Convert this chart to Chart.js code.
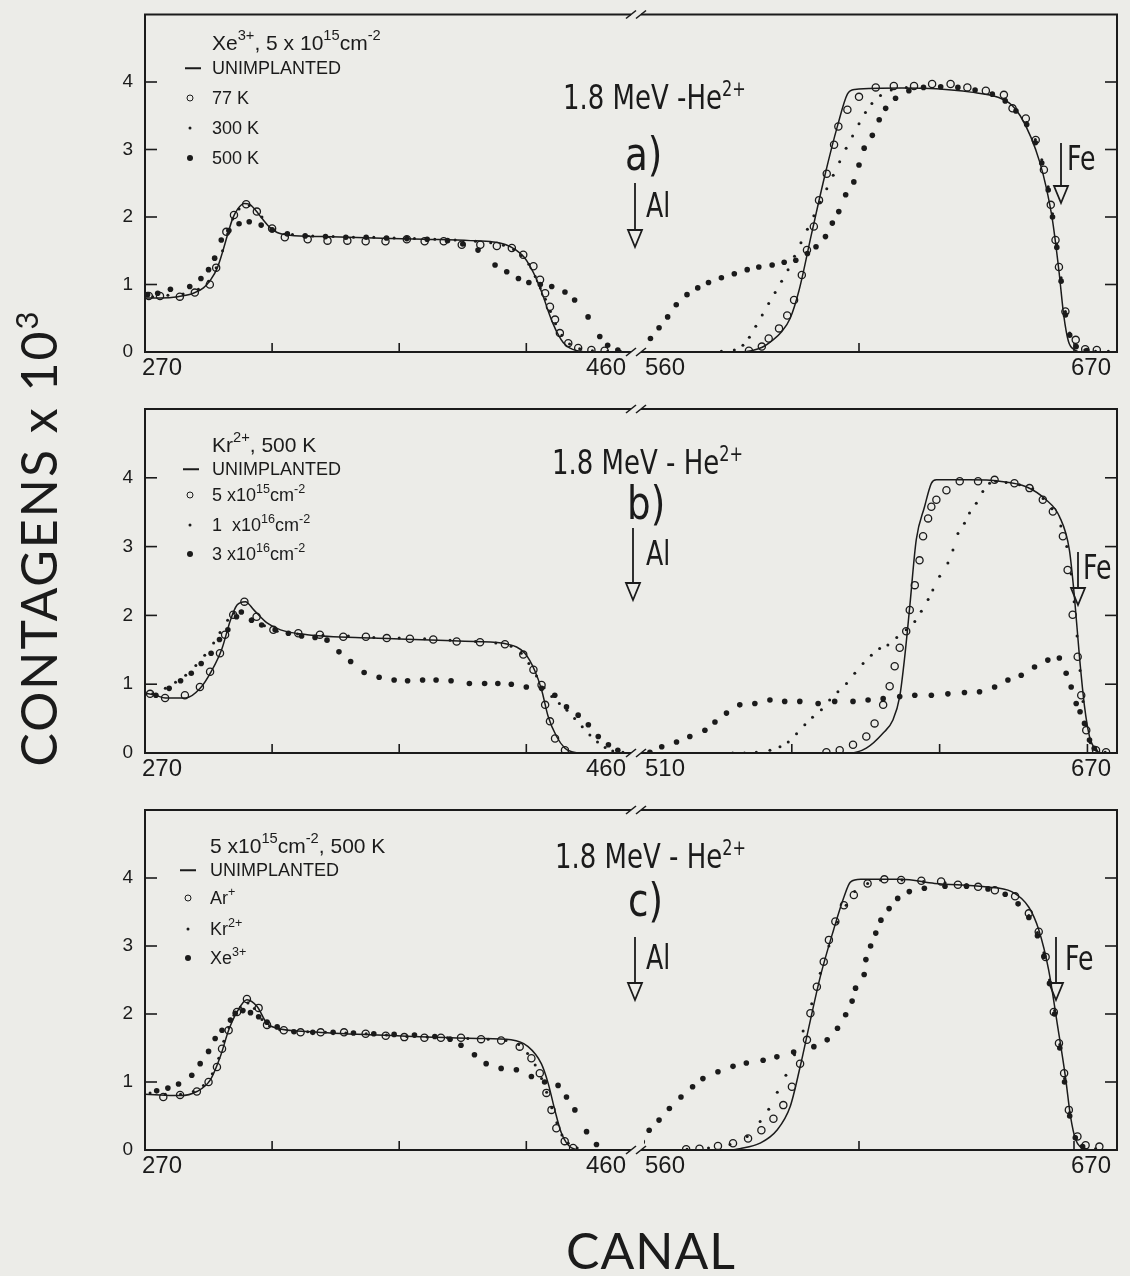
<!DOCTYPE html>
<html lang="pt">
<head>
<meta charset="utf-8">
<title>Espectros de retroespalhamento</title>
<script src="https://cdn.jsdelivr.net/npm/chart.js@4.4.0/dist/chart.umd.min.js"></script>
<style>
  html, body { margin: 0; padding: 0; }
  body {
    width: 1130px; height: 1276px; position: relative; overflow: hidden;
    background: #ecece8; color: #1b1b1b;
    font-family: "Liberation Sans", Arial, sans-serif;
  }
  canvas.seg { position: absolute; left: 0; top: 0; }
  svg#marks { position: absolute; left: 0; top: 0; }
  .t { position: absolute; white-space: nowrap; line-height: 1; transform: translateY(-50%); transform-origin: left center; }
  sup { font-size: 0.62em; vertical-align: 0.62em; line-height: 0; }
  .head { font-size: 21px; }
  .head sup { font-size: 0.7em; }
  .item { font-size: 18px; }
  .item sup { font-size: 0.7em; }
  .beam { font-family: "Liberation Sans Narrow", "DejaVu Sans Condensed", sans-serif; font-size: 34px; transform: translateY(-50%) scaleX(0.85); }
  .tag { font-family: "Liberation Sans Narrow", "DejaVu Sans Condensed", sans-serif; font-size: 46px; transform: translateY(-50%) scaleX(0.9); }
  .elem { font-family: "Liberation Sans Narrow", "DejaVu Sans Condensed", sans-serif; font-size: 33px; transform: translateY(-50%) scaleX(0.85); }
  .mk { position: absolute; transform: translate(-50%, -50%); box-sizing: border-box; }
  .mk.line { width: 16px; height: 1.5px; background: #1b1b1b; }
  .mk.open { width: 7px; height: 7px; border: 1.4px solid #1b1b1b; border-radius: 50%; }
  .mk.small { width: 3px; height: 3px; background: #1b1b1b; border-radius: 50%; }
  .mk.big { width: 6px; height: 6px; background: #1b1b1b; border-radius: 50%; }
  #ytitle {
    position: absolute; left: 38px; top: 538px; white-space: nowrap; line-height: 1;
    font-family: Lato, "Liberation Sans", sans-serif; font-size: 50px; letter-spacing: 2px;
    transform: translate(-50%, -50%) rotate(-90deg);
  }
  #xtitle {
    position: absolute; left: 651px; top: 1250px; white-space: nowrap; line-height: 1;
    font-family: Lato, "Liberation Sans", sans-serif; font-size: 50px; letter-spacing: 1px;
    transform: translate(-50%, -50%);
  }
</style>
</head>
<body>

<canvas id="aLeft" class="seg" width="1130" height="1276"></canvas>
<canvas id="aRight" class="seg" width="1130" height="1276"></canvas>
<canvas id="bLeft" class="seg" width="1130" height="1276"></canvas>
<canvas id="bRight" class="seg" width="1130" height="1276"></canvas>
<canvas id="cLeft" class="seg" width="1130" height="1276"></canvas>
<canvas id="cRight" class="seg" width="1130" height="1276"></canvas>

<!-- Al / Fe surface arrows -->
<svg id="marks" width="1130" height="1276">
  <g stroke="#1b1b1b" stroke-width="1.8" fill="none" stroke-linejoin="miter">
    <path d="M635 183 V230"/><path d="M628 230 H642 L635 247 Z"/>
    <path d="M1061 143 V186"/><path d="M1054 186 H1068 L1061 203 Z"/>
    <path d="M633 528 V583"/><path d="M626 583 H640 L633 600 Z"/>
    <path d="M1078 552 V588"/><path d="M1071 588 H1085 L1078 605 Z"/>
    <path d="M635 937 V983"/><path d="M628 983 H642 L635 1000 Z"/>
    <path d="M1056 937 V983"/><path d="M1049 983 H1063 L1056 1000 Z"/>
  </g>
</svg>

<!-- panel a -->
<div class="t head" style="left:212px;top:42px">Xe<sup>3+</sup>, 5 x 10<sup>15</sup>cm<sup>-2</sup></div>
<span class="mk line" style="left:193px;top:68px"></span><div class="t item" style="left:212px;top:68px">UNIMPLANTED</div>
<span class="mk open" style="left:190px;top:98px"></span><div class="t item" style="left:212px;top:98px">77 K</div>
<span class="mk small" style="left:190px;top:128px"></span><div class="t item" style="left:212px;top:128px">300 K</div>
<span class="mk big" style="left:190px;top:158px"></span><div class="t item" style="left:212px;top:158px">500 K</div>
<div class="t beam" style="left:563px;top:97px">1.8 MeV -He<sup>2+</sup></div>
<div class="t tag" style="left:625px;top:154px">a)</div>
<div class="t elem" style="left:646px;top:205px">Al</div>
<div class="t elem" style="left:1067px;top:158px">Fe</div>

<!-- panel b -->
<div class="t head" style="left:212px;top:444px">Kr<sup>2+</sup>, 500 K</div>
<span class="mk line" style="left:191px;top:469px"></span><div class="t item" style="left:212px;top:469px">UNIMPLANTED</div>
<span class="mk open" style="left:190px;top:495px"></span><div class="t item" style="left:212px;top:495px">5 x10<sup>15</sup>cm<sup>-2</sup></div>
<span class="mk small" style="left:190px;top:525px"></span><div class="t item" style="left:212px;top:525px">1 &nbsp;x10<sup>16</sup>cm<sup>-2</sup></div>
<span class="mk big" style="left:190px;top:554px"></span><div class="t item" style="left:212px;top:554px">3 x10<sup>16</sup>cm<sup>-2</sup></div>
<div class="t beam" style="left:552px;top:462px">1.8 MeV - He<sup>2+</sup></div>
<div class="t tag" style="left:627px;top:503px">b)</div>
<div class="t elem" style="left:646px;top:553px">Al</div>
<div class="t elem" style="left:1083px;top:567px">Fe</div>

<!-- panel c -->
<div class="t head" style="left:210px;top:845px">5 x10<sup>15</sup>cm<sup>-2</sup>, 500 K</div>
<span class="mk line" style="left:188px;top:870px"></span><div class="t item" style="left:210px;top:870px">UNIMPLANTED</div>
<span class="mk open" style="left:188px;top:898px"></span><div class="t item" style="left:210px;top:898px">Ar<sup>+</sup></div>
<span class="mk small" style="left:188px;top:929px"></span><div class="t item" style="left:210px;top:929px">Kr<sup>2+</sup></div>
<span class="mk big" style="left:188px;top:958px"></span><div class="t item" style="left:210px;top:958px">Xe<sup>3+</sup></div>
<div class="t beam" style="left:555px;top:856px">1.8 MeV - He<sup>2+</sup></div>
<div class="t tag" style="left:628px;top:900px">c)</div>
<div class="t elem" style="left:646px;top:957px">Al</div>
<div class="t elem" style="left:1065px;top:958px">Fe</div>

<div id="ytitle">CONTAGENS x 10<sup>3</sup></div>
<div id="xtitle">CANAL</div>

<script>
const INK = '#1b1b1b';
const W = 1130, H = 1276;

// counts axis (x 10^3), same for every panel
const yTicks = [0, 1, 2, 3, 4];
const yMax = 5;

// channel windows either side of the axis break
const leftRange = [270, 460];
const rightRangeA = [560, 670];
const rightRangeB = [510, 670];
const rightRangeC = [560, 670];

// inner (unlabelled) channel ticks
const leftTicks = [320, 370, 420];
const rightTicksA = [610, 660];
const rightTicksB = [560, 610, 660];
const rightTicksC = [610, 660];

// a) Xe3+, 5x10^15 cm-2 -- [canal, contagens x 10^3]
const aUnimplanted = [
  [270,0.80],[276,0.80],[283,0.82],[289,0.87],[293,0.95],[296,1.08],[298.5,1.25],[300.5,1.48],
  [302.5,1.74],[304.5,1.98],[306.5,2.12],[309,2.20],[311,2.19],[313.5,2.10],[316,1.98],[319,1.85],
  [322,1.77],[327,1.73],[340,1.71],[360,1.69],[380,1.67],[398,1.65],[407,1.63],[412,1.59],
  [416,1.51],[419,1.41],[421.5,1.27],[424,1.08],[426.5,0.84],[428.5,0.62],[430.5,0.42],[432.5,0.26],
  [434.5,0.14],[437,0.06],[440,0.02],[445,0],[460,0],
  [560,0],[582,0],[585,0.02],[587.5,0.07],[590,0.18],[592,0.30],[594,0.50],[596,0.90],[599,1.76],
  [602,2.60],[605,3.35],[607.3,3.82],[609,3.89],[620,3.91],[628,3.90],[636,3.85],[642.5,3.77],
  [645.5,3.66],[647.5,3.50],[650,3.18],[652,2.82],[653.5,2.45],[655,1.95],[656.5,1.20],[657.6,0.55],
  [658.7,0.16],[660.2,0.03],[662,0],[670,0]
];
const aK77 = [
  [271.5,0.83],[275.9,0.83],[283.7,0.82],[289.6,0.88],[295.5,1.00],[298,1.25],[302,1.78],[305,2.03],
  [309.8,2.19],[314,2.08],[320,1.83],[325,1.70],[334,1.67],[341.8,1.65],[349.6,1.65],[356.8,1.64],
  [364.6,1.64],[373,1.67],[380,1.64],[387.5,1.64],[394.6,1.59],[401.9,1.59],[408.4,1.57],[414.3,1.54],
  [418.8,1.44],[422.8,1.27],[425.4,1.07],[427.4,0.87],[429.3,0.67],[431.3,0.48],[433.2,0.28],[436.5,0.13],
  [440.4,0.06],[445.6,0.03],[450.8,0.02],
  [584.4,0.02],[587.4,0.08],[589,0.20],[591.4,0.35],[593.3,0.54],[594.9,0.77],[596.7,1.14],[597.9,1.51],
  [599.5,1.86],[600.7,2.25],[602.5,2.64],[604.2,3.07],[605.2,3.34],[607.3,3.59],[610,3.78],[613.9,3.92],
  [618.1,3.94],[622.8,3.94],[627,3.97],[631.3,3.97],[635.2,3.92],[639.5,3.87],[643.7,3.81],[645.7,3.61],
  [648.8,3.46],[651.1,3.14],[653,2.70],[654.6,2.18],[655.7,1.66],[656.5,1.26],[658,0.60],[660.4,0.18],
  [662.6,0.04],[665.3,0.03]
];
const aK300 = [
  [273,0.82],[279,0.84],[285,0.86],[291,0.93],[295,1.05],[298,1.25],[300.5,1.50],[302.5,1.75],
  [304.5,1.97],[307,2.12],[311,2.17],[316,2.00],[321,1.80],[328,1.74],[336,1.72],[344,1.71],
  [352,1.70],[360,1.70],[368,1.69],[376,1.68],[384,1.67],[392,1.66],[400,1.64],[406,1.62],
  [411,1.58],[415,1.52],[418,1.43],[421,1.30],[423.5,1.12],[425.5,0.95],[427.5,0.78],[429.5,0.60],
  [431.5,0.42],[434,0.25],[437,0.12],[441,0.05],[446,0.02],[452,0.01],[457,0.01],
  [578,0.01],[581,0.03],[583,0.10],[584.5,0.22],[586,0.38],[587.5,0.55],[589,0.72],[590.5,0.88],
  [592,1.05],[593.5,1.22],[595,1.42],[596.5,1.62],[598,1.82],[599.5,2.02],[601,2.22],[602.5,2.42],
  [604,2.62],[605.5,2.82],[607,3.02],[608.5,3.20],[610,3.38],[611.5,3.55],[613,3.68],[615,3.80],
  [617.5,3.88],[621,3.92],[625,3.93],[629,3.93],[633,3.92],[637,3.88],[641,3.83],[644,3.75],
  [646.5,3.60],[649,3.40],[651,3.15],[652.5,2.85],[654,2.45],[655,2.05],[656,1.60],[657,1.10],
  [658,0.60],[659,0.28],[660.5,0.10],[662.5,0.03],[665,0.01],[668,0.01]
];
const aK500 = [
  [271,0.85],[275,0.87],[280,0.93],[287.6,0.97],[292,1.09],[295,1.22],[297.4,1.39],[300,1.66],
  [303,1.80],[307,1.90],[311,1.93],[315.7,1.88],[320,1.81],[326,1.75],[333,1.72],[341,1.71],
  [349,1.70],[357,1.70],[365,1.69],[373,1.68],[381,1.67],[389,1.65],[395,1.60],[401,1.51],
  [407.7,1.29],[412.3,1.19],[416.9,1.09],[421,1.03],[425.5,1.00],[430,0.97],[435.2,0.89],[439,0.77],
  [444.3,0.52],[448.9,0.23],[452,0.10],[456,0.03],
  [561.5,0.20],[563.5,0.36],[565.5,0.52],[567.5,0.70],[570,0.85],[572.5,0.95],[575,1.03],[578,1.10],
  [581,1.16],[584,1.22],[586.7,1.26],[589.8,1.29],[592.6,1.33],[595.3,1.36],[598,1.46],[600,1.56],
  [602.2,1.71],[603.8,1.91],[605.3,2.08],[606.9,2.33],[608.8,2.52],[610,2.77],[611.2,3.02],[613.1,3.21],
  [614.7,3.44],[616.2,3.61],[618.5,3.76],[621.6,3.87],[625,3.92],[629,3.93],[633,3.92],[637,3.88],
  [641,3.82],[644,3.72],[646.5,3.57],[649,3.37],[651,3.10],[652.5,2.80],[654,2.40],[655,2.00],
  [656,1.55],[657,1.05],[658,0.55],[659,0.25],[660.5,0.08],[663,0.02]
];

// b) Kr2+, 500 K
const bUnimplanted = [
  [270,0.87],[274,0.84],[278,0.80],[286,0.80],[291.7,0.94],[296.3,1.20],[300.3,1.52],[303.6,1.93],
  [306.2,2.15],[309.5,2.20],[312.8,2.08],[318,1.89],[323.3,1.79],[333.8,1.72],[360,1.67],[399.6,1.62],
  [412.8,1.58],[419.4,1.45],[423.3,1.20],[426,0.92],[428.6,0.53],[431.9,0.24],[435.2,0.07],[437.8,0.02],
  [442,0],[460,0],
  [510,0],[579.6,0],[585.2,0.07],[590.9,0.29],[594.2,0.48],[596.5,0.82],[598.2,1.40],[599.9,2.13],
  [602.1,3.10],[604.9,3.58],[607.2,3.92],[608.9,3.97],[620,3.97],[630.3,3.95],[639.3,3.87],[646,3.68],
  [650.5,3.44],[653.9,2.95],[655.6,2.27],[657.3,1.40],[659,0.68],[660.7,0.24],[662.9,0.04],[665,0],[670,0]
];
const bDose5e15 = [
  [272,0.86],[277.9,0.80],[285.7,0.84],[291.6,0.96],[295.6,1.18],[299.5,1.45],[301.5,1.72],[304.7,2.01],
  [309.1,2.20],[313.9,1.98],[320.5,1.79],[330.3,1.74],[338.8,1.72],[348,1.69],[356.9,1.69],[365.1,1.67],
  [374.2,1.66],[383.4,1.65],[392.6,1.62],[401.8,1.61],[411.6,1.58],[418.8,1.43],[422.8,1.21],[426,0.99],
  [427.4,0.70],[429.3,0.46],[431.3,0.21],[435.2,0.04],
  [571.7,0.01],[576.2,0.04],[580.7,0.12],[585.2,0.24],[588,0.43],[590.9,0.70],[593.1,0.97],[594.8,1.26],
  [596.5,1.53],[598.7,1.77],[599.9,2.08],[601.6,2.44],[603.2,2.80],[604.4,3.15],[606.1,3.41],[607.2,3.58],
  [608.9,3.68],[612.3,3.82],[616.8,3.95],[623,3.95],[628.6,3.97],[635.3,3.92],[640.4,3.85],[644.9,3.68],
  [648.3,3.51],[651.7,3.15],[653.3,2.66],[655,2.01],[656.7,1.40],[657.9,0.84],[659.6,0.33],[662.9,0.04],
  [666.3,0.01]
];
const bDose1e16 = [
  [273,0.86],[278,0.94],[282,1.03],[286,1.13],[290,1.27],[293.5,1.42],[297,1.60],[299.5,1.75],
  [302.5,1.93],[305,2.03],[308,2.06],[312,1.95],[317,1.85],[322,1.77],[330,1.73],[340,1.71],
  [350,1.70],[360,1.68],[370,1.67],[380,1.66],[390,1.64],[400,1.62],[408,1.60],[414,1.55],
  [418,1.45],[421,1.30],[424,1.12],[427,0.95],[430,0.82],[433,0.72],[436,0.62],[439,0.50],
  [442,0.38],[445,0.26],[448,0.16],[451,0.08],[454,0.03],[458,0.01],
  [540,0],[544,0],[548,0.01],[552.6,0.04],[556,0.09],[558.8,0.16],[561.6,0.28],[564.4,0.41],
  [567,0.52],[570,0.63],[572.8,0.77],[575.6,0.89],[578.5,1.01],[581.3,1.16],[584.1,1.30],[586.9,1.42],
  [589.7,1.52],[592.5,1.57],[595.5,1.68],[598.7,1.79],[601.6,1.91],[603.8,2.06],[606.1,2.23],[607.7,2.37],
  [610,2.57],[612.8,2.76],[614.5,2.95],[616.2,3.19],[618.4,3.34],[620.1,3.49],[622.4,3.63],[624.6,3.80],
  [626.9,3.92],[629,3.95],[632.5,3.93],[637,3.90],[641.5,3.84],[645,3.70],[648,3.55],[651,3.30],
  [653,3.00],[654.5,2.60],[655.5,2.20],[656.5,1.70],[657.5,1.20],[658.5,0.75],[659.5,0.40],[661,0.15],
  [663,0.04],[666,0.01]
];
const bDose3e16 = [
  [274.3,0.84],[279.5,0.94],[284,1.05],[288.2,1.16],[292.1,1.30],[296,1.45],[299.3,1.65],[302.6,1.79],
  [306,1.98],[307.9,2.05],[311.9,1.93],[315.9,1.86],[321.2,1.79],[326.4,1.74],[331.6,1.70],[336.9,1.68],
  [341.6,1.64],[346.3,1.47],[350.9,1.33],[356.2,1.17],[362.1,1.10],[368,1.06],[373.3,1.05],[379.2,1.06],
  [384.5,1.06],[390.4,1.05],[397.6,1.01],[403.6,1.01],[408.8,1.01],[414.1,1.00],[420,0.96],[426,0.94],
  [431.2,0.84],[435.8,0.67],[440.4,0.55],[444.4,0.41],[448.3,0.24],[452.3,0.12],[456,0.04],
  [512,0.01],[516,0.09],[521,0.16],[525.5,0.24],[530.6,0.33],[534,0.45],[537.9,0.58],[542.4,0.70],
  [547.5,0.72],[552.6,0.77],[557.6,0.75],[562.7,0.75],[568.9,0.72],[574.5,0.75],[580.7,0.75],[585.8,0.77],
  [590.9,0.79],[596.5,0.82],[601.6,0.84],[607.2,0.84],[612.8,0.86],[618.4,0.88],[623.5,0.89],[628.6,0.96],
  [633.1,1.06],[637.6,1.13],[642.1,1.25],[646.6,1.35],[650.5,1.38],[652.8,1.16],[654.5,0.96],[656.2,0.72],
  [657.5,0.60],[659,0.43],[660.7,0.19],[662.3,0.07]
];

// c) 5x10^15 cm-2, 500 K
const cUnimplanted = [
  [270,0.82],[275.9,0.81],[283.8,0.80],[290.4,0.86],[295.7,1.03],[299.6,1.37],[302.9,1.76],[306.2,2.03],
  [310.1,2.21],[314.1,2.11],[318,1.86],[322,1.79],[335.1,1.74],[361.4,1.69],[400.9,1.64],[414,1.62],
  [420.7,1.52],[425.9,1.27],[428.6,0.98],[431.2,0.59],[433.8,0.25],[437.8,0.03],[442,0],[460,0],
  [560,0],[580,0],[582.3,0.02],[587,0.10],[590.9,0.29],[594,0.64],[596.3,1.22],[598.7,1.91],
  [601,2.55],[604.1,3.24],[606.5,3.72],[608,3.94],[610.4,3.98],[619.8,3.98],[627.6,3.92],[639.3,3.87],
  [645.5,3.80],[649.5,3.57],[651.8,3.24],[654.1,2.65],[656.1,1.86],[658,1.08],[659.2,0.49],[660.4,0.15],
  [662.7,0.02],[665,0],[670,0]
];
const cAr = [
  [277.2,0.78],[283.8,0.81],[290.4,0.86],[295,1.00],[298.3,1.22],[300.3,1.49],[302.9,1.76],[306.2,2.03],
  [310.1,2.22],[314.7,2.09],[318,1.84],[324.6,1.76],[331.2,1.73],[339.1,1.73],[348.3,1.73],[356.8,1.71],
  [364.7,1.68],[372,1.66],[379.9,1.65],[386.4,1.65],[394.3,1.65],[402.2,1.63],[410.1,1.61],[417.4,1.52],
  [422,1.35],[425.3,1.13],[427.9,0.84],[429.9,0.59],[431.8,0.32],[435.1,0.13],[438.4,0.03],
  [569.8,0.01],[572.9,0.02],[577.2,0.06],[580.7,0.10],[584.2,0.17],[587.3,0.29],[590.1,0.46],[592.4,0.66],
  [594.4,0.93],[596.3,1.27],[597.9,1.62],[598.7,2.01],[600.2,2.40],[601.8,2.77],[603,3.09],[604.5,3.36],
  [606.5,3.60],[608.8,3.75],[612,3.92],[615.9,3.98],[619.8,3.97],[624.5,3.96],[629.1,3.95],[633,3.90],
  [637.7,3.87],[641.6,3.82],[646.3,3.73],[649.5,3.48],[651.8,3.21],[653.4,2.84],[655.3,2.03],[656.5,1.57],
  [657.7,1.13],[658.8,0.59],[660.8,0.20],[662.7,0.07],[665.9,0.05]
];
const cKr = [
  [272,0.84],[278,0.82],[284,0.82],[289,0.86],[293,0.95],[296.5,1.12],[299,1.35],[301,1.60],
  [303,1.80],[305,1.98],[307.5,2.10],[310.5,2.16],[313,2.08],[316,1.92],[319,1.82],[323,1.77],
  [328,1.75],[334,1.74],[341,1.73],[349,1.72],[357,1.71],[365,1.69],[373,1.67],[381,1.66],
  [389,1.65],[397,1.64],[405,1.63],[412,1.61],[417,1.55],[420.5,1.42],[423.5,1.25],[426,1.05],
  [428,0.85],[430,0.62],[432,0.40],[434,0.22],[436.5,0.10],[440,0.03],
  [570,0.01],[575,0.03],[580,0.08],[584,0.20],[587,0.42],[589,0.60],[591,0.85],[593,1.10],
  [595,1.40],[597,1.75],[599,2.15],[601,2.60],[603,3.00],[605,3.35],[607,3.60],[609,3.80],
  [612,3.92],[615,3.97],[620,3.97],[625,3.95],[630,3.93],[635,3.90],[640,3.85],[644,3.76],
  [647,3.62],[649.5,3.45],[651.5,3.20],[653,2.90],[654.3,2.50],[655.5,2.05],[656.7,1.55],[657.8,1.05],
  [659,0.55],[660.3,0.20],[662,0.06],[665,0.02]
];
const cXe = [
  [274.6,0.87],[279,0.91],[283.2,0.97],[288.4,1.10],[291.7,1.27],[295,1.45],[297.6,1.64],[300.3,1.76],
  [303.6,1.91],[305.5,2.01],[308.5,2.05],[311.5,2.02],[314.7,1.96],[318,1.88],[322,1.81],[328.6,1.74],
  [336,1.73],[344,1.73],[352,1.72],[360,1.71],[368,1.70],[376,1.69],[384,1.67],[390,1.63],
  [394.3,1.54],[399.6,1.40],[404.2,1.27],[410.1,1.20],[416.1,1.18],[422,1.08],[427.2,1.00],[432.5,0.95],
  [435.8,0.78],[439.1,0.59],[443.7,0.27],[447.6,0.08],
  [559.6,0.12],[561.2,0.29],[563.5,0.44],[565.9,0.61],[568.6,0.78],[571.3,0.93],[573.7,1.05],[577.2,1.15],
  [580.7,1.23],[583.8,1.28],[587.7,1.32],[590.9,1.37],[594.8,1.44],[599.5,1.52],[602.6,1.62],[605,1.79],
  [606.9,1.99],[608.4,2.19],[609.2,2.38],[611.2,2.58],[611.6,2.80],[612.7,3.00],[613.9,3.19],[615.1,3.38],
  [617,3.55],[619,3.70],[621.7,3.80],[625.2,3.85],[630,3.88],[635,3.88],[640,3.84],[644,3.76],
  [647,3.62],[649.5,3.42],[651.5,3.15],[653,2.85],[654.3,2.45],[655.5,2.00],[656.7,1.50],[657.8,1.00],
  [659,0.50],[660.3,0.18],[662,0.05]
];

// plot boxes in page pixels
const rows = { a: [14.5, 352], b: [409, 753], c: [810, 1150] };
const cols = { left: [145, 628], right: [644, 1117] };

// frame, inward ticks, axis break marks and the edge labels of one segment
const segmentFrame = {
  id: 'segmentFrame',
  beforeDatasetsDraw(chart, args, opts) {
    const { ctx, chartArea: a, scales: { x, y } } = chart;
    const left = opts.side === 'left';
    ctx.save();
    ctx.strokeStyle = INK;
    ctx.fillStyle = INK;
    ctx.lineWidth = 2;

    ctx.beginPath();
    if (left) {
      ctx.moveTo(a.right + 3, a.top); ctx.lineTo(a.left, a.top);
      ctx.lineTo(a.left, a.bottom); ctx.lineTo(a.right + 3, a.bottom);
    } else {
      ctx.moveTo(a.left - 3, a.top); ctx.lineTo(a.right, a.top);
      ctx.lineTo(a.right, a.bottom); ctx.lineTo(a.left - 3, a.bottom);
    }
    ctx.stroke();

    // slanted break marks
    ctx.lineWidth = 1.6;
    const bx = left ? a.right + 3 : a.left - 3;
    [a.top, a.bottom].forEach(yy => {
      ctx.beginPath();
      ctx.moveTo(bx - 5, yy + 4);
      ctx.lineTo(bx + 5, yy - 4);
      ctx.stroke();
    });

    // inward ticks
    const edge = left ? a.left : a.right;
    const dir = left ? 1 : -1;
    yTicks.slice(1).forEach(v => {
      const py = y.getPixelForValue(v);
      ctx.beginPath(); ctx.moveTo(edge, py); ctx.lineTo(edge + dir * 12, py); ctx.stroke();
    });
    opts.ticks.forEach(v => {
      const px = x.getPixelForValue(v);
      ctx.beginPath(); ctx.moveTo(px, a.bottom); ctx.lineTo(px, a.bottom - 9); ctx.stroke();
    });

    // count labels on the left side only
    if (left) {
      ctx.font = '19px "Liberation Sans", Arial, sans-serif';
      ctx.textAlign = 'right';
      ctx.textBaseline = 'middle';
      yTicks.forEach(v => ctx.fillText(String(v), a.left - 12, y.getPixelForValue(v)));
    }

    // channel labels at both ends of the segment
    ctx.font = '24px "Liberation Sans", Arial, sans-serif';
    ctx.textBaseline = 'middle';
    const [lo, hi] = opts.range;
    const ly = a.bottom + 16;
    ctx.textAlign = 'left';
    ctx.fillText(String(lo), x.getPixelForValue(lo) + (left ? -3 : 1), ly);
    ctx.textAlign = 'right';
    ctx.fillText(String(hi), x.getPixelForValue(hi) + (left ? -2 : -6), ly);
    ctx.restore();
  }
};

function datasetsFor(line, open, small, big) {
  const xy = pts => pts.map(([x, y]) => ({ x, y }));
  return [
    { data: xy(line), showLine: true, borderColor: INK, borderWidth: 1.5, pointRadius: 0,
      cubicInterpolationMode: 'monotone' },
    { data: xy(open), pointRadius: 3.6, borderWidth: 1.3, borderColor: INK, backgroundColor: 'rgba(0,0,0,0)' },
    { data: xy(small), pointRadius: 1.5, borderWidth: 0, backgroundColor: INK },
    { data: xy(big), pointRadius: 2.8, borderWidth: 0, backgroundColor: INK }
  ];
}

function segment(canvasId, row, side, range, ticks, series) {
  const [top, bottom] = row;
  const [left, right] = cols[side];
  return new Chart(document.getElementById(canvasId), {
    type: 'scatter',
    data: { datasets: datasetsFor(...series) },
    options: {
      responsive: false,
      animation: false,
      events: [],
      layout: { padding: { left, top, right: W - right, bottom: H - bottom } },
      scales: {
        x: { type: 'linear', display: false, min: range[0], max: range[1] },
        y: { type: 'linear', display: false, min: 0, max: yMax }
      },
      plugins: {
        legend: { display: false },
        tooltip: { enabled: false },
        segmentFrame: { side, range, ticks }
      }
    },
    plugins: [segmentFrame]
  });
}

const seriesA = [aUnimplanted, aK77, aK300, aK500];
const seriesB = [bUnimplanted, bDose5e15, bDose1e16, bDose3e16];
const seriesC = [cUnimplanted, cAr, cKr, cXe];

segment('aLeft', rows.a, 'left', leftRange, leftTicks, seriesA);
segment('aRight', rows.a, 'right', rightRangeA, rightTicksA, seriesA);
segment('bLeft', rows.b, 'left', leftRange, leftTicks, seriesB);
segment('bRight', rows.b, 'right', rightRangeB, rightTicksB, seriesB);
segment('cLeft', rows.c, 'left', leftRange, leftTicks, seriesC);
segment('cRight', rows.c, 'right', rightRangeC, rightTicksC, seriesC);
</script>
</body>
</html>
